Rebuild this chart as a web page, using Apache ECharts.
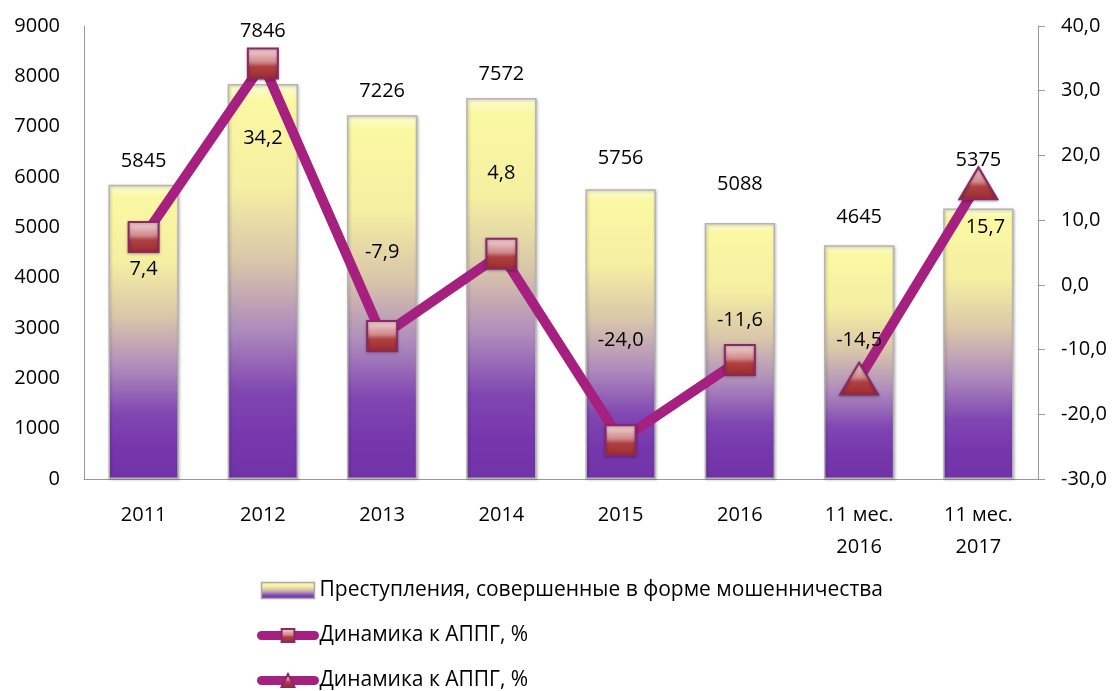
<!DOCTYPE html>
<html>
<head>
<meta charset="utf-8">
<script src="https://cdn.jsdelivr.net/npm/echarts@6/dist/echarts.min.js"></script>
<style>html,body{margin:0;padding:0;background:#fff}#c{width:1118px;height:691px}</style>
</head>
<body>
<div id="c"></div>
<script>
var categories = ['2011', '2012', '2013', '2014', '2015', '2016', '11 мес.\n2016', '11 мес.\n2017'];
var crimes = [5845, 7846, 7226, 7572, 5756, 5088, 4645, 5375];
var dynYears = [7.4, 34.2, -7.9, 4.8, -24.0, -11.6];
var dyn11m = [-14.5, 15.7];
var leftTicks = [0, 9000, 1000];
var rightTicks = [-30, 40, 10];
// both line series carry the same visible name; a trailing space keeps them apart in the legend
var seriesNames = ['Преступления, совершенные в форме мошенничества', 'Динамика к АППГ, %', 'Динамика к АППГ, % '];

// label placement (styling only)
var barLabelShift = [0, -29, 0, 0, -7, -15, -4, -24];
var lineLabelOffset = [[0, 32], [0, 75], [0, -84], [0, -80], [0, -100], [0, -40], [0, -38], [7, 44]];

var FONT = '"Open Sans", "Noto Sans", sans-serif';
var fmt = function (v) { return v.toFixed(1).replace('.', ','); };

var barGrad = new echarts.graphic.LinearGradient(0, 0, 0, 1, [
  { offset: 0, color: '#fdfdd6' },
  { offset: 0.04, color: '#fbf8a2' },
  { offset: 0.26, color: '#f5efa2' },
  { offset: 0.45, color: '#d9c6aa' },
  { offset: 0.62, color: '#ae8cbc' },
  { offset: 0.78, color: '#8046b2' },
  { offset: 0.9, color: '#7636ac' },
  { offset: 1, color: '#7232a8' }
]);
var markGrad = new echarts.graphic.LinearGradient(0, 0, 0, 1, [
  { offset: 0, color: '#f8dde0' },
  { offset: 0.45, color: '#d08a8c' },
  { offset: 0.6, color: '#b04040' },
  { offset: 1, color: '#9a2a2e' }
]);
var LINE = '#a6207f';

var n = categories.length;
var barData = crimes.map(function (v, i) {
  return { value: v, label: { offset: [0, barLabelShift[i]] } };
});
var line1 = [], line2 = [];
for (var i = 0; i < n; i++) {
  if (i < dynYears.length) {
    line1.push({ value: dynYears[i], label: { offset: lineLabelOffset[i] } });
    line2.push('-');
  } else {
    line1.push('-');
    line2.push({ value: dyn11m[i - dynYears.length], label: { offset: lineLabelOffset[i] } });
  }
}

var chart = echarts.init(document.getElementById('c'), null, { renderer: 'canvas' });
var legendLine = { color: LINE, width: 9, cap: 'round' };
chart.setOption({
  animation: false,
  textStyle: { fontFamily: FONT },
  grid: { left: 84, right: 80, top: 26, bottom: 212, containLabel: false },
  legend: {
    orient: 'vertical', left: 257, top: 580, height: 200, padding: 0,
    itemWidth: 53, itemHeight: 16, itemGap: 24,
    textStyle: { fontFamily: FONT, fontSize: 21, color: '#000' },
    formatter: function (name) { return name.trim(); },
    data: [
      { name: seriesNames[0], icon: 'rect', itemStyle: { borderColor: '#a8a8a8', borderWidth: 1.5 } },
      { name: seriesNames[1], lineStyle: legendLine },
      { name: seriesNames[2], lineStyle: legendLine }
    ]
  },
  xAxis: {
    type: 'category', data: categories,
    axisLine: { lineStyle: { color: '#9a9a9a', width: 1 } },
    axisTick: { show: false },
    axisLabel: { fontFamily: FONT, fontSize: 20, color: '#000', margin: 20, lineHeight: 32, interval: 0 }
  },
  yAxis: [{
    type: 'value', min: leftTicks[0], max: leftTicks[1], interval: leftTicks[2],
    axisLine: { show: true, lineStyle: { color: '#9a9a9a' } },
    axisTick: { show: false }, splitLine: { show: false },
    axisLabel: { fontFamily: FONT, fontSize: 20, color: '#000', margin: 24,
      formatter: function (v) { return String(v); } }
  }, {
    type: 'value', min: rightTicks[0], max: rightTicks[1], interval: rightTicks[2],
    position: 'right',
    axisLine: { show: true, lineStyle: { color: '#9a9a9a' } },
    axisTick: { show: true, length: 7, lineStyle: { color: '#9a9a9a' } },
    splitLine: { show: false },
    axisLabel: { fontFamily: FONT, fontSize: 20, color: '#000', margin: 23, formatter: fmt }
  }],
  series: [{
    name: seriesNames[0], type: 'bar', yAxisIndex: 0, barWidth: '59%',
    data: barData,
    itemStyle: { color: barGrad, borderColor: '#b4b4b4', borderWidth: 1.5,
      shadowColor: 'rgba(0,0,0,0.25)', shadowBlur: 3, shadowOffsetX: 1, shadowOffsetY: 1 },
    label: { show: true, position: 'top', distance: 14, fontFamily: FONT, fontSize: 20, color: '#000' },
    z: 1
  }, {
    name: seriesNames[1], type: 'line', yAxisIndex: 1, data: line1,
    symbol: 'rect', symbolSize: 30,
    lineStyle: { color: LINE, width: 10 },
    itemStyle: { color: markGrad, borderColor: '#8a2868', borderWidth: 2,
      shadowColor: 'rgba(0,0,0,0.3)', shadowBlur: 3, shadowOffsetY: 1 },
    label: { show: true, position: 'inside', fontFamily: FONT, fontSize: 20, color: '#000',
      formatter: function (p) { return fmt(p.value); } },
    z: 3
  }, {
    name: seriesNames[2], type: 'line', yAxisIndex: 1, data: line2,
    symbol: 'triangle', symbolSize: [38, 32],
    lineStyle: { color: LINE, width: 10 },
    itemStyle: { color: markGrad, borderColor: '#8a2868', borderWidth: 2,
      shadowColor: 'rgba(0,0,0,0.3)', shadowBlur: 3, shadowOffsetY: 1 },
    label: { show: true, position: 'inside', fontFamily: FONT, fontSize: 20, color: '#000',
      formatter: function (p) { return fmt(p.value); } },
    z: 3
  }]
});
</script>
</body>
</html>
